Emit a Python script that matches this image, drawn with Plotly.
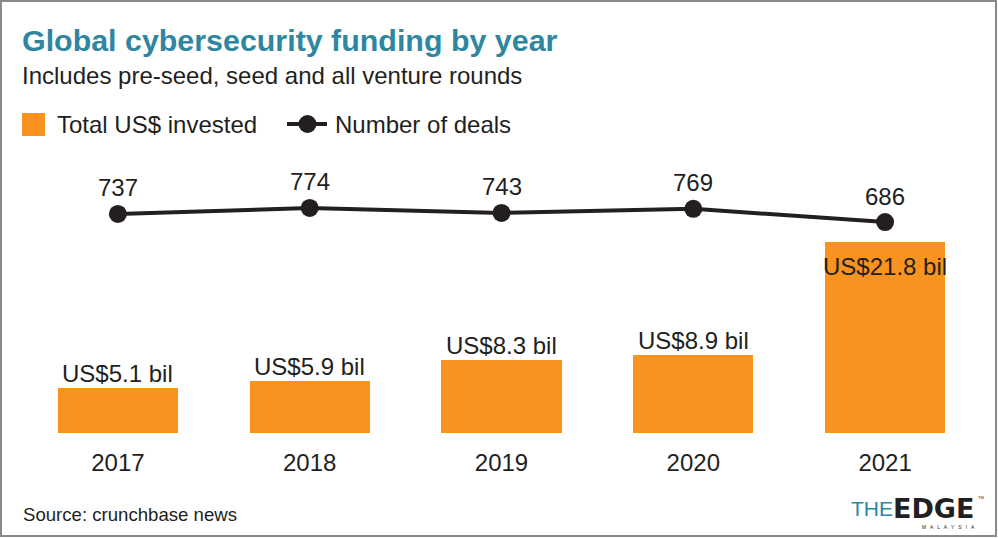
import plotly.graph_objects as go

years = ["2017", "2018", "2019", "2020", "2021"]
invested_bil = [5.1, 5.9, 8.3, 8.9, 21.8]
invested_labels = ["US$5.1 bil", "US$5.9 bil", "US$8.3 bil", "US$8.9 bil", "US$21.8 bil"]
deals = [737, 774, 743, 769, 686]

W_FIG, H_FIG = 998, 538
L, R, T, B = 22, 17, 140, 105
PW = W_FIG - L - R
PH = H_FIG - T - B
BASE = H_FIG - B

ORANGE = "#F7931E"
DARK = "#231F20"
TEAL = "#2E86A0"
FONT = "Liberation Sans, Arial, Helvetica, sans-serif"


def px(x):
    return (x - L) / PW


def py(y):
    return (BASE - y) / PH


fig = go.Figure()
fig.add_trace(go.Bar(
    x=years, y=invested_bil, marker=dict(color=ORANGE, line=dict(width=0)),
    width=0.627, name="Total US$ invested", showlegend=False, hoverinfo="skip",
))
fig.add_trace(go.Scatter(
    x=years, y=deals, yaxis="y2", mode="lines+markers",
    line=dict(color=DARK, width=4), marker=dict(color=DARK, size=18),
    name="Number of deals", showlegend=False, hoverinfo="skip",
))

ann = []
for i, (v, lab) in enumerate(zip(invested_bil, invested_labels)):
    inside = i == len(years) - 1
    ann.append(dict(x=i, y=v, xref="x", yref="y", text=lab, showarrow=False,
                    yanchor="middle", yshift=-24 if inside else 15,
                    font=dict(family=FONT, size=24, color=DARK)))
for i, d in enumerate(deals):
    ann.append(dict(x=i, y=d, xref="x", yref="y2", text=str(d), showarrow=False,
                    yanchor="middle", yshift=26,
                    font=dict(family=FONT, size=24, color=DARK)))

# titles
ann.append(dict(x=px(20), y=py(40), xref="paper", yref="paper", xanchor="left", yanchor="middle",
                text="<b>Global cybersecurity funding by year</b>", showarrow=False,
                font=dict(family=FONT, size=30.4, color=TEAL)))
ann.append(dict(x=px(20), y=py(75), xref="paper", yref="paper", xanchor="left", yanchor="middle",
                text="Includes pre-seed, seed and all venture rounds", showarrow=False,
                font=dict(family=FONT, size=24, color=DARK)))
# legend texts
ann.append(dict(x=px(55), y=py(124), xref="paper", yref="paper", xanchor="left", yanchor="middle",
                text="Total US$ invested", showarrow=False,
                font=dict(family=FONT, size=24, color=DARK)))
ann.append(dict(x=px(333), y=py(124), xref="paper", yref="paper", xanchor="left", yanchor="middle",
                text="Number of deals", showarrow=False,
                font=dict(family=FONT, size=24, color=DARK)))
# source
ann.append(dict(x=px(21), y=py(514), xref="paper", yref="paper", xanchor="left", yanchor="middle",
                text="Source: crunchbase news", showarrow=False,
                font=dict(family=FONT, size=18.6, color=DARK)))
# logo
ann.append(dict(x=px(895), y=py(508), xref="paper", yref="paper", xanchor="right", yanchor="middle",
                text="THE", showarrow=False,
                font=dict(family="Liberation Sans Narrow, Liberation Sans", size=21, color=TEAL)))
ann.append(dict(x=px(891), y=py(508), xref="paper", yref="paper", xanchor="left", yanchor="middle",
                text="<b>EDGE</b>", showarrow=False,
                font=dict(family="DejaVu Sans", size=27, color=DARK)))
ann.append(dict(x=px(948), y=py(527), xref="paper", yref="paper", xanchor="center", yanchor="middle",
                text="M   A   L   A   Y   S   I   A", showarrow=False,
                font=dict(family=FONT, size=5, color=DARK)))
ann.append(dict(x=px(981), y=py(497), xref="paper", yref="paper", xanchor="center", yanchor="middle",
                text="TM", showarrow=False,
                font=dict(family=FONT, size=4, color=DARK)))

shapes = [
    # border
    dict(type="rect", xref="paper", yref="paper", x0=px(1), x1=px(996), y0=py(536), y1=py(1),
         line=dict(color="#8a8a8a", width=2), fillcolor="rgba(0,0,0,0)", layer="below"),
    # legend swatch
    dict(type="rect", xref="paper", yref="paper", x0=px(22), x1=px(45), y0=py(136), y1=py(113),
         line=dict(width=0), fillcolor=ORANGE),
    dict(type="line", xref="paper", yref="paper", x0=px(287), x1=px(327), y0=py(124), y1=py(124),
         line=dict(color=DARK, width=4)),
    dict(type="circle", xref="paper", yref="paper", x0=px(298.5), x1=px(316.5), y0=py(133), y1=py(115),
         line=dict(width=0), fillcolor=DARK),
]

fig.update_layout(
    width=W_FIG, height=H_FIG,
    margin=dict(l=L, r=R, t=T, b=B),
    paper_bgcolor="white", plot_bgcolor="white",
    xaxis=dict(type="category", range=[-0.5, 4.5], showgrid=False, showline=False, zeroline=False,
               ticks="", ticklabelstandoff=13,
               tickfont=dict(family=FONT, size=24, color=DARK)),
    yaxis=dict(range=[0, 21.8 * PH / 191], visible=False, showgrid=False, zeroline=False),
    yaxis2=dict(range=[-633, 1199], overlaying="y", visible=False, showgrid=False, zeroline=False),
    annotations=ann, shapes=shapes, showlegend=False,
    bargap=0,
)

fig.write_html("out.html", config={"displayModeBar": False},
               post_script="document.body.style.margin='0px';document.body.style.overflow='hidden';")
